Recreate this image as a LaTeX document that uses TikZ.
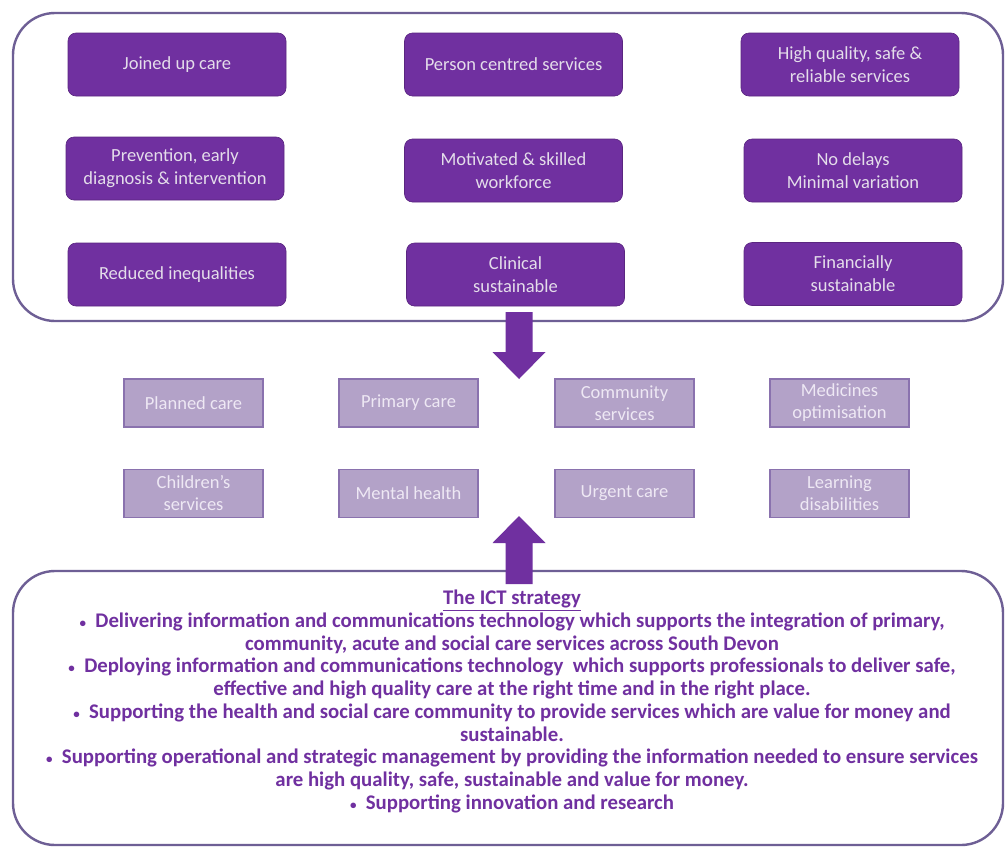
\documentclass[tikz,border=0pt]{standalone}
\usepackage{fontspec}
\setmainfont{Carlito}
\usetikzlibrary{calc}
\definecolor{deep}{HTML}{7030A0}
\definecolor{frame}{HTML}{6E5F95}
\definecolor{lav}{HTML}{B3A2C8}
\definecolor{lavedge}{HTML}{8A72AE}
\definecolor{lavtext}{HTML}{EEE8F4}
\definecolor{toptext}{HTML}{E4DDEA}
\newcommand{\blt}{{\fontsize{13}{13}\selectfont•}\ \ }
\tikzset{
  outer/.style={draw=frame, line width=2.4pt, rounded corners=42pt},
  goal/.style={fill=deep, draw=deep!80!black, line width=0.6pt, rounded corners=8pt,
    minimum width=218pt, minimum height=63pt, inner sep=0pt, align=center,
    text=toptext, font=\fontsize{18.5}{23}\selectfont},
  prog/.style={fill=lav, draw=lavedge, line width=1.8pt,
    minimum width=139pt, minimum height=48pt, inner sep=0pt, align=center,
    text=lavtext, font=\fontsize{18.5}{22}\selectfont},
  blockarrow/.style={fill=deep, draw=none}
}
\begin{document}
\begin{tikzpicture}[x=1pt,y=-1pt]
\useasboundingbox (0,0) rectangle (1006,849);
\fill[white] (0,0) rectangle (1006,849);
% frames
\draw[outer] (13,13) rectangle (1003,321);
\draw[outer] (13,571) rectangle (1003,845);
% arrows
\fill[blockarrow] (505.5,312) -- (532.5,312) -- (532.5,352) -- (545.5,352) -- (519,379) -- (492.5,352) -- (505.5,352) -- cycle;
\fill[blockarrow] (505.5,584) -- (532.5,584) -- (532.5,543) -- (545.5,543) -- (519,516) -- (492.5,543) -- (505.5,543) -- cycle;
% goals
\node[goal] (g1) at (177,64.5) {Joined up care};
\node[goal] (g2) at (513.5,64.5) {Person centred services};
\node[goal] (g3) at (850,64.5) {High quality, safe \&\\reliable services};
\node[goal] (g4) at (175,168.5) {Prevention, early\\diagnosis \& intervention};
\node[goal] (g5) at (513.5,170.5) {Motivated \& skilled\\workforce};
\node[goal] (g6) at (853,170.5) {No delays\\Minimal variation};
\node[goal] (g7) at (177,274.5) {Reduced inequalities};
\node[goal] (g8) at (515.5,274.5) {Clinical\\sustainable};
\node[goal] (g9) at (853,274) {Financially\\sustainable};
% programmes
\node[prog] (p1) at (193.5,403) {Planned care};
\node[prog] (p2) at (408.5,403) {Primary care};
\node[prog] (p3) at (624.5,403) {Community\\services};
\node[prog] (p4) at (839.5,403) {Medicines\\optimisation};
\node[prog] (p5) at (193.5,493.5) {Children’s\\services};
\node[prog] (p6) at (408.5,493.5) {Mental health};
\node[prog] (p7) at (624.5,493.5) {Urgent care};
\node[prog] (p8) at (839.5,493.5) {Learning\\disabilities};
% strategy text
\node[text=deep, font=\bfseries\fontsize{20.8}{22.7}\selectfont, align=center, inner sep=0pt, anchor=north] (ict) at (512,590)
{\underline{The ICT strategy}\\
\blt Delivering information and communications technology which supports the integration of primary,\\
community, acute and social care services across South Devon\\
\blt Deploying information and communications technology\ \ which supports professionals to deliver safe,\\
effective and high quality care at the right time and in the right place.\\
\blt Supporting the health and social care community to provide services which are value for money and\\
sustainable.\\
\blt Supporting operational and strategic management by providing the information needed to ensure services\\
are high quality, safe, sustainable and value for money.\\
\blt Supporting innovation and research};
\end{tikzpicture}
\end{document}
